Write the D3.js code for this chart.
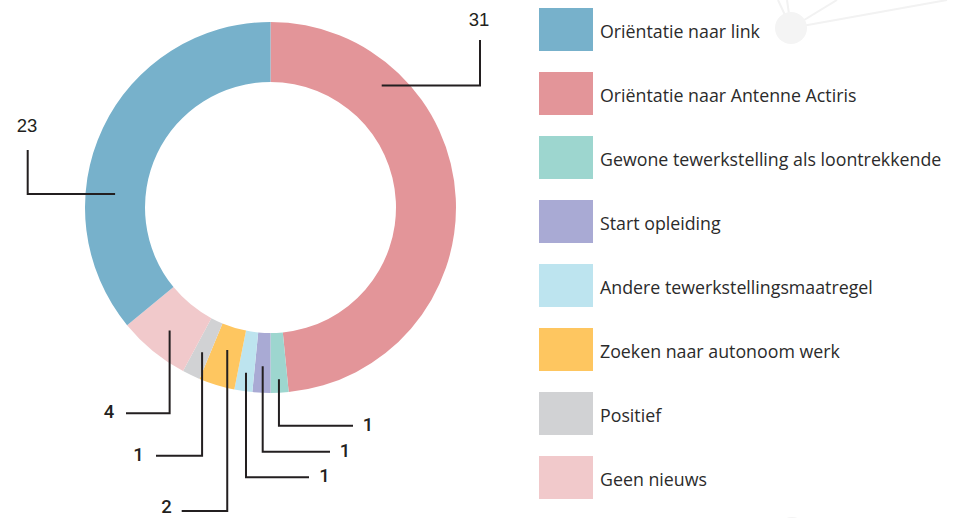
<!DOCTYPE html>
<html>
<head>
<meta charset="utf-8">
<script src="https://cdn.jsdelivr.net/npm/d3@7"></script>
<style>
  body { margin: 0; background: #fff; }
  svg { display: block; }
</style>
</head>
<body>
<svg id="chart" width="965" height="518"></svg>
<script>
// slices, clockwise from the top
const sliceNames = [
  "Oriëntatie naar Antenne Actiris",
  "Gewone tewerkstelling als loontrekkende",
  "Start opleiding",
  "Andere tewerkstellingsmaatregel",
  "Zoeken naar autonoom werk",
  "Positief",
  "Geen nieuws",
  "Oriëntatie naar link"
];
const sliceValues = [31, 1, 1, 1, 2, 1, 4, 23];

// legend order, top to bottom
const legendNames = [
  "Oriëntatie naar link",
  "Oriëntatie naar Antenne Actiris",
  "Gewone tewerkstelling als loontrekkende",
  "Start opleiding",
  "Andere tewerkstellingsmaatregel",
  "Zoeken naar autonoom werk",
  "Positief",
  "Geen nieuws"
];
const legendColors = ["#77b1cb", "#e39599", "#9dd6cf", "#a9aad4", "#bde4ef", "#fec660", "#d1d2d4", "#f1c9cb"];

// where each value label and its leader line go (same order as sliceNames)
// frac = position along the slice, r = radius where the line starts
const labelLayout = [
  {frac: 0.243, r: 165, dir: "h", elbow: 480, end: 40, tx: 479, ty: 26, font: "Liberation Sans"},
  {frac: 0.5, r: 172, dir: "v", elbow: 425.7, end: 353, tx: 368, font: "Roboto"},
  {frac: 0.5, r: 159, dir: "v", elbow: 451.7, end: 330, tx: 345, font: "Roboto"},
  {frac: 0.5, r: 167, dir: "v", elbow: 477.3, end: 309, tx: 324.5, font: "Roboto"},
  {frac: 0.5, r: 149, dir: "v", elbow: 511, end: 181.7, tx: 166.5, ty: 513, font: "Roboto"},
  {frac: 0.5, r: 160, dir: "v", elbow: 455.7, end: 156, tx: 138.5, font: "Roboto"},
  {frac: 0.5, r: 159, dir: "v", elbow: 413.3, end: 126, tx: 109, font: "Roboto"},
  {frac: 0.343, r: 156, dir: "h", elbow: 27.7, end: 150, tx: 27, ty: 132, font: "Liberation Sans"}
];

const width = 965, height = 518;
const cx = 270.5, cy = 207.5;
const outerR = 185.5, innerR = 125.5;

const svg = d3.select("#chart");

// faint background decoration
const deco = svg.append("g").attr("stroke", "#f2f2f2").attr("stroke-width", 2).attr("fill", "#f4f4f4");
[[791, 28, 778, 0], [791, 28, 787, 0], [791, 28, 837, 0], [791, 28, 947, 0]].forEach(l => {
  deco.append("line").attr("x1", l[0]).attr("y1", l[1]).attr("x2", l[2]).attr("y2", l[3]);
});
deco.append("circle").attr("cx", 791).attr("cy", 28).attr("r", 16).attr("stroke", "none");
deco.append("circle").attr("cx", 792).attr("cy", 533).attr("r", 16).attr("stroke", "none");

const color = d3.scaleOrdinal().domain(legendNames).range(legendColors);

const pie = d3.pie().sort(null).value(d => d.value);
const data = sliceNames.map((n, i) => ({name: n, value: sliceValues[i], layout: labelLayout[i]}));
const arcs = pie(data);

const arc = d3.arc().innerRadius(innerR).outerRadius(outerR);

const g = svg.append("g").attr("transform", `translate(${cx},${cy})`);

g.selectAll("path.slice")
  .data(arcs)
  .enter()
  .append("path")
  .attr("class", "slice")
  .attr("d", arc)
  .attr("fill", d => color(d.data.name));

// leader lines + value labels
const labels = svg.append("g");
arcs.forEach(d => {
  const L = d.data.layout;
  const a = d.startAngle + (d.endAngle - d.startAngle) * L.frac;
  const ax = cx + L.r * Math.sin(a);
  const ay = cy - L.r * Math.cos(a);
  let pts;
  if (L.dir === "h") {
    pts = [[ax, ay], [L.elbow, ay], [L.elbow, L.end]];
  } else {
    pts = [[ax, ay], [ax, L.elbow], [L.end, L.elbow]];
  }
  const tx = L.tx;
  const ty = L.ty !== undefined ? L.ty : L.elbow + 5;
  labels.append("path")
    .attr("d", d3.line()(pts))
    .attr("fill", "none")
    .attr("stroke", "#231f20")
    .attr("stroke-width", 2);
  labels.append("text")
    .attr("x", tx)
    .attr("y", ty)
    .attr("text-anchor", "middle")
    .attr("font-family", L.font)
    .attr("font-weight", L.font === "Roboto" ? 500 : 400)
    .attr("font-size", 18.5)
    .attr("fill", "#231f20")
    .text(d.data.value);
});

// legend
const legend = svg.append("g").attr("transform", "translate(539,8)");
const items = legend.selectAll("g")
  .data(legendNames)
  .enter()
  .append("g")
  .attr("transform", (d, i) => `translate(0,${i * 64})`);

items.append("rect")
  .attr("width", 54)
  .attr("height", 43)
  .attr("fill", d => color(d));

items.append("text")
  .attr("x", 61)
  .attr("y", 29.5)
  .attr("font-family", "Open Sans")
  .attr("font-size", 17.8)
  .attr("fill", "#2b2b2b")
  .text(d => d);
</script>
</body>
</html>
